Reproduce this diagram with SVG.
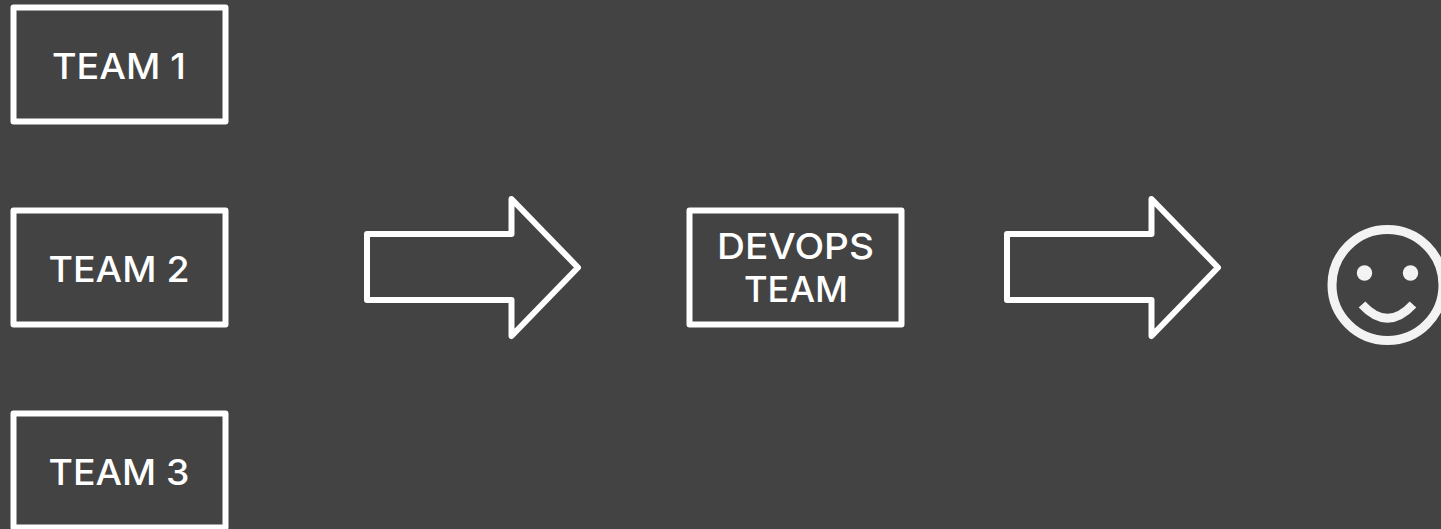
<svg xmlns="http://www.w3.org/2000/svg" width="1441" height="529" viewBox="0 0 1441 529">
<style>
.box,.arrow{fill:none;stroke:#fff;stroke-width:6;stroke-linejoin:round}
text{font-family:Inter,"Liberation Sans",sans-serif;font-size:36px;font-weight:500;fill:#fff;text-anchor:middle}
.face{fill:none;stroke:#f3f3f3;stroke-width:9}
</style>
<rect width="1441" height="529" fill="#434343"/>
<g id="team1"><rect class="box" x="13.5" y="7.5" width="212" height="114"/><text x="119" y="79" textLength="134" lengthAdjust="spacingAndGlyphs">TEAM 1</text></g>
<g id="team2"><rect class="box" x="13.5" y="210.500" width="212" height="114"/><text x="119" y="282" textLength="141" lengthAdjust="spacingAndGlyphs">TEAM 2</text></g>
<g id="team3"><rect class="box" x="13.5" y="413.500" width="212" height="114"/><text x="119" y="485" textLength="141" lengthAdjust="spacingAndGlyphs">TEAM 3</text></g>
<g id="devops"><rect class="box" x="689.5" y="210.500" width="212" height="114"/><text x="795.500" y="259" textLength="157" lengthAdjust="spacingAndGlyphs">DEVOPS</text><text x="796" y="302" textLength="104" lengthAdjust="spacingAndGlyphs">TEAM</text></g>
<g id="smiley">
<circle class="face" cx="1387.500" cy="285" r="55.500"/>
<circle cx="1364.500" cy="273" r="7.700" fill="#f3f3f3"/>
<circle cx="1410.500" cy="273" r="7.700" fill="#f3f3f3"/>
<path class="face" d="M1362 304.500 Q1387.500 332 1413 304.500" stroke-width="8"/>
</g>
<g id="connectors">
<path class="arrow" d="M367 234H511.500V199L578 267.500L511.500 336V300H367Z"/>
<path class="arrow" d="M1007 234H1151.500V199L1218 267.500L1151.500 336V300H1007Z"/>
</g>
</svg>
